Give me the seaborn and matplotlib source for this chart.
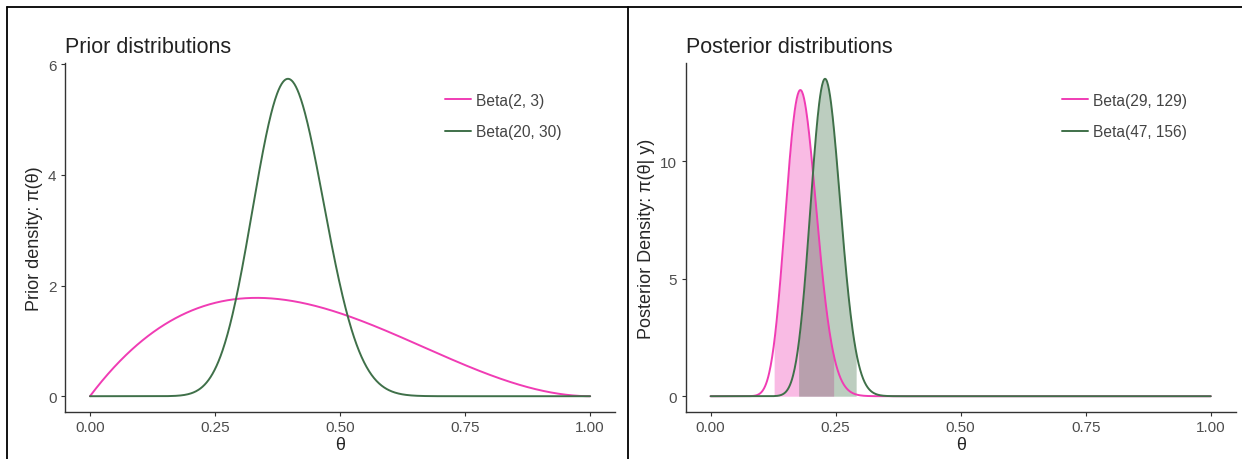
"""
    Prior and posterior Beta densities, two panels
"""
import math
import numpy as np
import pandas as pd
import seaborn as sns
import matplotlib.pyplot as plt
from matplotlib.lines import Line2D

# distribution parameters, read from the legends
prior_labels = ['Beta(2, 3)', 'Beta(20, 30)']
prior_a = [2, 20]
prior_b = [3, 30]

post_labels = ['Beta(29, 129)', 'Beta(47, 156)']
post_a = [29, 47]
post_b = [129, 156]

# shaded interval bounds
post_lo = [0.127, 0.176]
post_hi = [0.246, 0.291]

colours = ['#F03CB4', '#3F7049']
theta_ticks = [0.0, 0.25, 0.5, 0.75, 1.0]


def beta_pdf(x, a, b):
    lnorm = math.lgamma(a + b) - math.lgamma(a) - math.lgamma(b)
    with np.errstate(divide='ignore'):
        out = np.exp(lnorm + (a - 1) * np.log(x) + (b - 1) * np.log1p(-x))
    return np.nan_to_num(out)


def make_frame(labels, alist, blist):
    theta = np.linspace(0, 1, 1001)
    rows = []
    for lab, a, b in zip(labels, alist, blist):
        rows.append(pd.DataFrame({'theta': theta, 'density': beta_pdf(theta, a, b), 'dist': lab}))
    return pd.concat(rows, ignore_index=True)


sns.set_style('ticks')
plt.rcParams['font.family'] = ['Liberation Sans', 'DejaVu Sans']

fig = plt.figure(figsize=(12.42, 4.6), dpi=100)
ax1 = fig.add_axes([0.0523, 0.102, 0.443, 0.759])
ax2 = fig.add_axes([0.552, 0.102, 0.443, 0.759])

prior = make_frame(prior_labels, prior_a, prior_b)
post = make_frame(post_labels, post_a, post_b)

# posterior credible intervals shaded
for a, b, lo, hi, c in zip(post_a, post_b, post_lo, post_hi, colours):
    x = np.linspace(lo, hi, 300)
    ax2.fill_between(x, 0, beta_pdf(x, a, b), color=c, alpha=0.35, lw=0)

sns.lineplot(data=prior, x='theta', y='density', hue='dist', palette=colours, ax=ax1, lw=1.4)
sns.lineplot(data=post, x='theta', y='density', hue='dist', palette=colours, ax=ax2, lw=1.4)

for ax, title, ylab, ymax, yt, legx in [
        (ax1, 'Prior distributions', 'Prior density: π(θ)', prior['density'].max(), [0, 2, 4, 6], 0.691),
        (ax2, 'Posterior distributions', 'Posterior Density: π(θ| y)', post['density'].max(), [0, 5, 10], 0.684)]:
    ax.set_xlim(-0.05, 1.05)
    ax.set_ylim(-0.05 * ymax, 1.05 * ymax)
    ax.set_xticks(theta_ticks)
    ax.set_xticklabels([f'{t:.2f}' for t in theta_ticks])
    ax.set_yticks(yt)
    ax.tick_params(labelsize=11, colors='#333333', labelcolor='#4D4D4D', length=3, width=0.8, pad=3)
    ax.set_xlabel('θ', fontsize=13, labelpad=1)
    ax.set_ylabel(ylab, fontsize=13, labelpad=4)
    ax.set_title(title, fontsize=15.5, loc='left', pad=8, color='#222222')
    for s in ['left', 'bottom']:
        ax.spines[s].set_linewidth(1.0)
        ax.spines[s].set_color('#333333')
    sns.despine(ax=ax)
    leg = ax.legend(loc='upper left', frameon=False, fontsize=11.2, title=None,
                    handlelength=1.65, handletextpad=0.35, labelspacing=1.05,
                    borderaxespad=0, borderpad=0, bbox_to_anchor=(legx, 0.915))
    for t in leg.get_texts():
        t.set_color('#444444')

# panel borders
for coords in [([0.006, 1.0], [0.982, 0.982]), ([0.006, 0.006], [0.0, 0.982]), ([0.5056, 0.5056], [0.0, 0.982])]:
    fig.add_artist(Line2D(coords[0], coords[1], color='black', lw=1.3, transform=fig.transFigure))

fig.savefig('out.png', dpi=100)
